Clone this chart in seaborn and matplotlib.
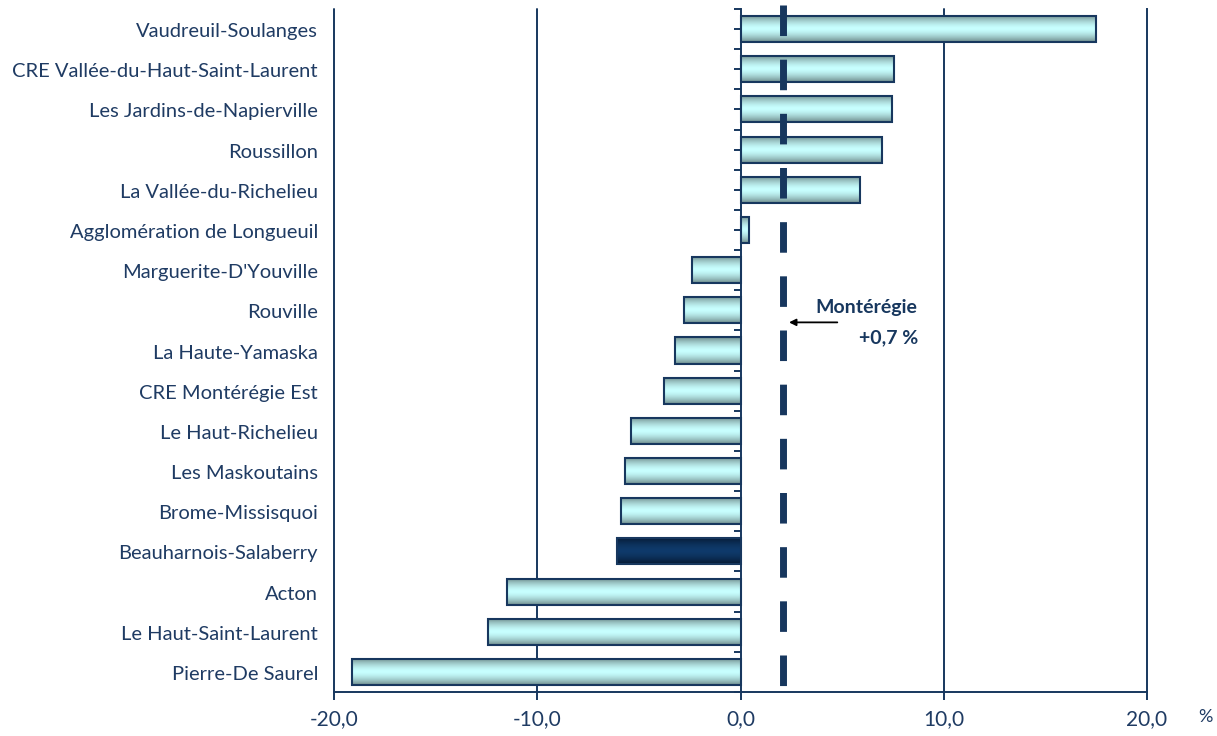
import numpy as np
import pandas as pd
import matplotlib
matplotlib.use("Agg")
import matplotlib.pyplot as plt
import seaborn as sns
from matplotlib import transforms
from matplotlib.ticker import FixedLocator, FuncFormatter
from matplotlib.colors import to_rgb

# ---------------- data ----------------
categories = [
    "Vaudreuil-Soulanges",
    "CRE Vallée-du-Haut-Saint-Laurent",
    "Les Jardins-de-Napierville",
    "Roussillon",
    "La Vallée-du-Richelieu",
    "Agglomération de Longueuil",
    "Marguerite-D'Youville",
    "Rouville",
    "La Haute-Yamaska",
    "CRE Montérégie Est",
    "Le Haut-Richelieu",
    "Les Maskoutains",
    "Brome-Missisquoi",
    "Beauharnois-Salaberry",
    "Acton",
    "Le Haut-Saint-Laurent",
    "Pierre-De Saurel",
]
values = [17.5, 7.55, 7.45, 6.95, 5.9, 0.4, -2.4, -2.8, -3.2, -3.75,
          -5.4, -5.7, -5.9, -6.1, -11.5, -12.4, -19.1]
highlight = "Beauharnois-Salaberry"
region_line_value = 2.1
region_label = "Montérégie"
region_value_label = "+0,7 %"
x_ticks = [-20, -10, 0, 10, 20]
unit_label = "%"

# ---------------- style ----------------
sns.set_theme(style="white")
plt.rcParams["font.family"] = ["Lato", "DejaVu Sans"]
navy = "#17375e"
label_color = "#1f3b63"
light_center = "#c8ffff"
light_edge = "#6f8c8c"
dark_center = "#0f3a6b"
dark_edge = "#061a33"

W, H = 1217, 736
fig = plt.figure(figsize=(W / 100, H / 100), dpi=100)
left, right, top, bottom = 334, 1147, 9, 692
ax = fig.add_axes([left / W, 1 - bottom / H, (right - left) / W, (bottom - top) / H])

df = pd.DataFrame({"region": categories, "value": values})
sns.barplot(data=df, x="value", y="region", orient="h", width=0.65,
            color=light_center, edgecolor=navy, linewidth=1.5, ax=ax, zorder=3)

n = len(categories)


def gradient(c_center, c_edge, N=64):
    t = np.linspace(0, 1, N)
    w = (np.abs(t - 0.5) * 2) ** 1.6
    cc = np.array(to_rgb(c_center))
    ce = np.array(to_rgb(c_edge))
    img = cc[None, :] * (1 - w[:, None]) + ce[None, :] * w[:, None]
    return img[:, None, :]


for p in list(ax.patches):
    yc = p.get_y() + p.get_height() / 2
    idx = int(round(yc))
    if categories[idx] == highlight:
        img = gradient(dark_center, dark_edge)
    else:
        img = gradient(light_center, light_edge)
    x0, x1 = p.get_x(), p.get_x() + p.get_width()
    y0, y1 = p.get_y(), p.get_y() + p.get_height()
    im = ax.imshow(img, extent=(min(x0, x1), max(x0, x1), y1, y0),
                   aspect="auto", zorder=2.5, interpolation="bilinear")
    im.set_clip_path(p)
    p.set_facecolor("none")

ax.set_xlim(x_ticks[0], x_ticks[-1])
ax.set_ylim(n - 0.5, -0.5)

# grid & spines
ax.grid(False)
for xv in x_ticks[:-1]:
    if xv != 0:
        ax.axvline(xv, color=navy, lw=1.4, zorder=1, clip_on=False)
for s in ["left", "right", "bottom"]:
    ax.spines[s].set_visible(True)
    ax.spines[s].set_color(navy)
    ax.spines[s].set_linewidth(1.4)
ax.spines["top"].set_visible(False)
# category axis crosses at zero
ax.spines["left"].set_position(("data", 0))
ax.spines["left"].set_zorder(4)

ax.set_xticks(x_ticks)
ax.xaxis.set_major_formatter(FuncFormatter(lambda v, pos: f"{v:.1f}".replace(".", ",")))
ax.tick_params(axis="x", direction="out", length=6, width=1.4, color=navy,
               labelsize=15, labelcolor=label_color, pad=6, bottom=True)

ax.set_yticks(range(n))
ax.set_yticklabels([""] * n)
ax.yaxis.set_minor_locator(FixedLocator(np.arange(-0.5, n, 1.0)))
ax.tick_params(axis="y", which="both", direction="out", length=5, width=1.4,
               color=navy, left=True, right=False)
ax.set_xlabel("")
ax.set_ylabel("")

# category labels, right-aligned left of the plot area
lab_trans = transforms.blended_transform_factory(ax.transAxes, ax.transData) + \
    transforms.ScaledTranslation(-16 / 100, -2.5 / 100, fig.dpi_scale_trans)
for i, name in enumerate(categories):
    ax.text(0, i, name, transform=lab_trans, ha="right", va="center",
            fontsize=14.5, color=label_color)

# regional dashed line
trans = transforms.blended_transform_factory(ax.transData, ax.transAxes)
ax.plot([region_line_value, region_line_value], [1.006, 0], transform=trans,
        color=navy, lw=5, linestyle=(0, (4.4, 3.4)), dash_capstyle="butt",
        clip_on=False, zorder=6)

# annotation
ax.annotate("", xy=(2.25, 7.3), xytext=(4.9, 7.3),
            arrowprops=dict(arrowstyle="-|>", color="black", lw=1.3,
                            mutation_scale=10), zorder=7)
ax.text(6.2, 6.94, region_label, ha="center", va="center", fontsize=14,
        fontweight="bold", color=navy, zorder=7)
ax.text(7.27, 7.69, region_value_label, ha="center", va="center", fontsize=14,
        fontweight="bold", color=navy, zorder=7)

fig.text(1205 / W, 1 - 717 / H, unit_label, ha="center", va="center",
         fontsize=13, color=label_color)

fig.savefig("out.png", dpi=100)
